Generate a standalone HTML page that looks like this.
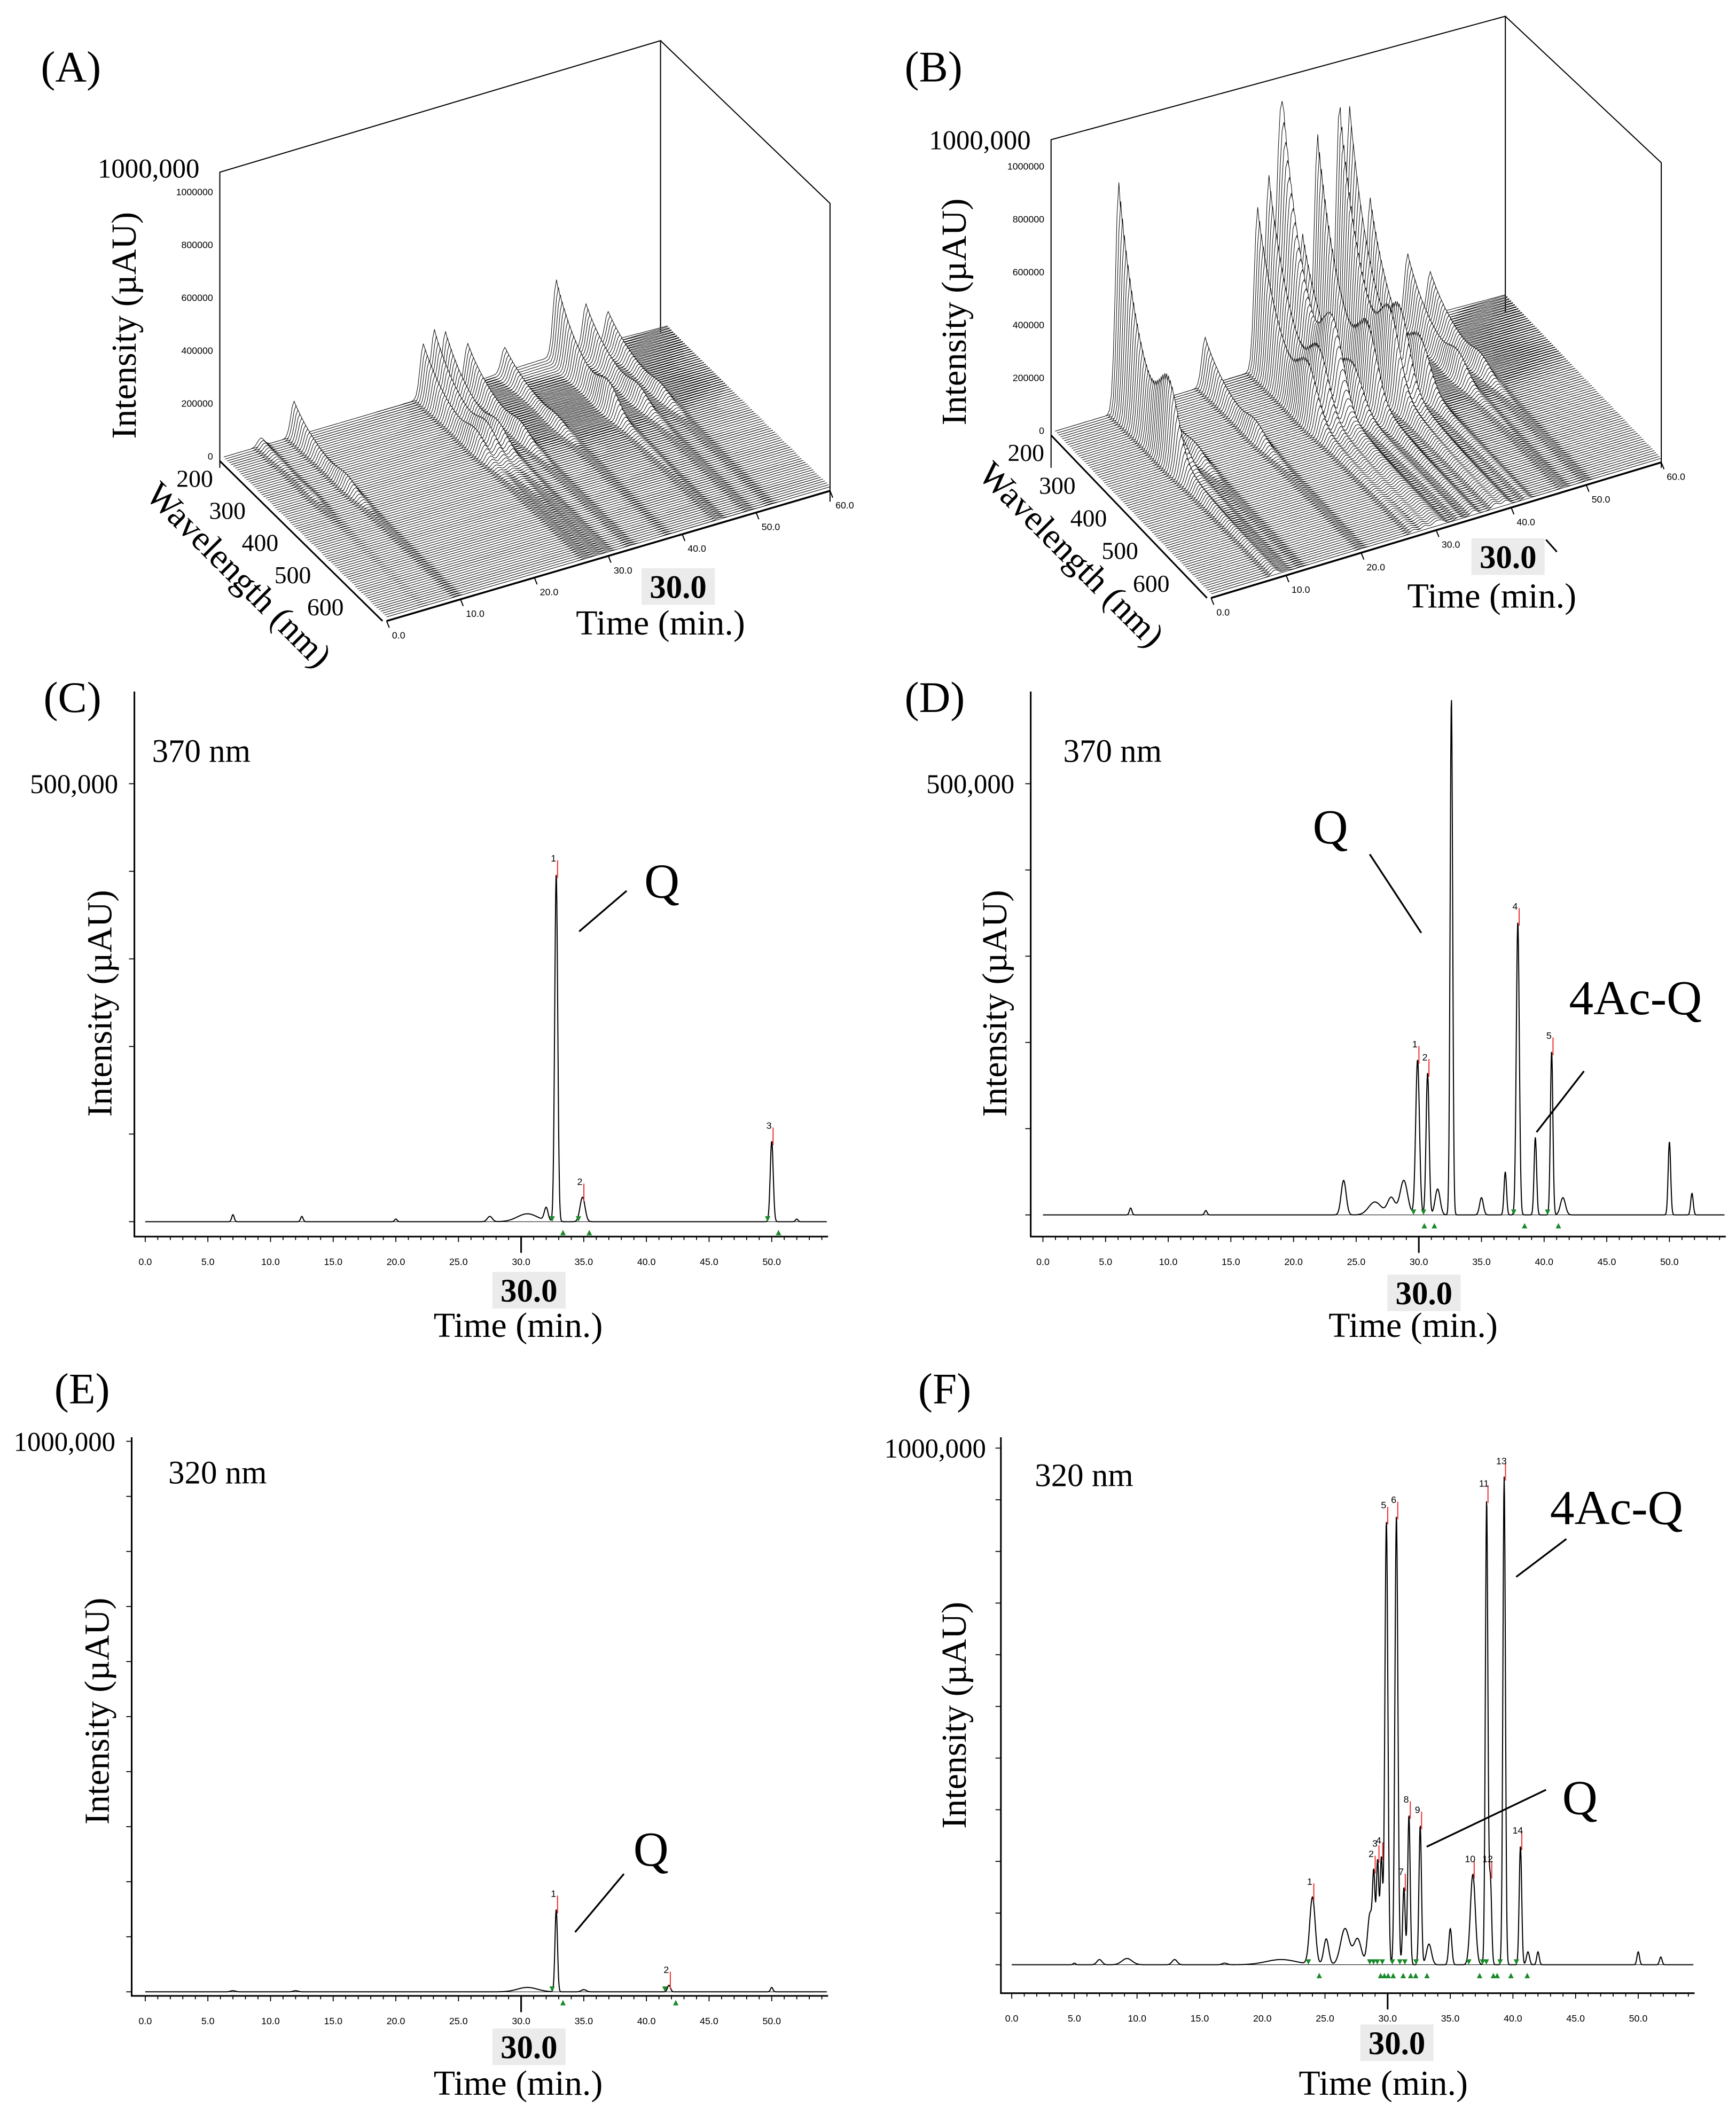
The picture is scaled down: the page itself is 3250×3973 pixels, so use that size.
<!DOCTYPE html>
<html><head><meta charset="utf-8">
<style>html,body{margin:0;padding:0;background:#fff}svg{display:block}
text{font-family:"Liberation Serif",serif;fill:#000}
.s{font-family:"Liberation Sans",sans-serif;font-size:7px}
</style></head><body>
<svg id="fig" xmlns="http://www.w3.org/2000/svg" width="3250" height="3973" viewBox="0 0 1280 1565">
<rect width="1280" height="1565" fill="#fff"/>
<g id="root"></g>
</svg>
<script>
// ---------- data ----------
const cTimes=[7.0,12.5,20.0,27.5,30.5,32.0,32.8,34.9,50.0,52.0];
const cHeights=[8000,6000,3000,6000,9000,15000,397000,28000,92000,3000];
const cWidths=[0.1,0.1,0.1,0.2,0.8,0.15,0.12,0.2,0.12,0.1];
const cLabels=[["1",32.8],["2",34.9],["3",50.0]];
const dTimes=[7.0,13.0,24.0,26.5,27.8,28.8,29.9,30.7,31.5,32.6,35.0,36.9,37.9,39.3,40.6,41.5,50.0,51.8];
const dHeights=[8000,5000,40000,15000,20000,40000,180000,165000,30000,600000,20000,50000,340000,90000,190000,20000,85000,25000];
const dWidths=[0.1,0.1,0.2,0.5,0.3,0.3,0.15,0.12,0.2,0.1,0.15,0.1,0.12,0.1,0.1,0.2,0.1,0.1];
const dLabels=[["1",29.9],["2",30.7],["4",37.9],["5",40.6]];
const eTimes=[7.0,12.0,30.5,32.8,35.0,41.8,50.0];
const eHeights=[2000,2000,8000,150000,4000,12000,8000];
const eWidths=[0.2,0.2,0.8,0.1,0.2,0.12,0.1];
const eLabels=[["1",32.8],["2",41.8]];
const fTimes=[5,7.0,9.2,13.0,17.0,21.5,24.0,25.1,26.6,27.6,28.6,28.9,29.2,29.5,29.9,30.7,31.3,31.7,32.6,33.3,35.0,36.8,37.9,38.2,39.3,40.6,41.2,42.0,50.0,51.8];
const fHeights=[3000,10000,12000,10000,3000,10000,130000,50000,70000,50000,100000,150000,200000,205000,860000,870000,150000,290000,270000,40000,70000,175000,900000,165000,945000,230000,25000,25000,25000,15000];
const fWidths=[0.1,0.2,0.4,0.2,0.2,1.2,0.22,0.2,0.35,0.3,0.2,0.1,0.1,0.1,0.12,0.12,0.1,0.1,0.1,0.2,0.12,0.2,0.1,0.1,0.1,0.1,0.12,0.1,0.1,0.1];
const fLabels=[["1",24.0],["2",28.9],["3",29.2],["4",29.5],["5",29.9],["6",30.7],["7",31.3],["8",31.7],["9",32.6],["10",36.8],["11",37.9],["12",38.2],["13",39.3],["14",40.6]];
const aTimes=[5,9.5,27,28.5,30,33,38,45,49,52];
const aHeights=[30000,130000,200000,240000,220000,150000,90000,280000,160000,110000];
const bTimes=[8.5,10,12,20,27,28.5,29.9,30.7,33,35,37.9,39.3,42,47,50];
const bHeights=[850000,250000,130000,180000,600000,700000,750000,680000,450000,800000,880000,860000,500000,250000,160000];

// ---------- helpers ----------
const NS="http://www.w3.org/2000/svg";
const root=document.getElementById('root');
function el(tag,attrs,parent,txt){const e=document.createElementNS(NS,tag);for(const k in attrs)e.setAttribute(k,attrs[k]);if(txt!==undefined)e.textContent=txt;(parent||root).appendChild(e);return e;}
function T(x,y,s,txt,name,extra){const t=el('text',Object.assign({x:x,y:y,'font-size':s},extra||{}),root,txt);


return t;}
function signal(times,heights,widths,t){let y=0;for(let i=0;i<times.length;i++){const d=(t-times[i])/widths[i];y+=heights[i]*Math.exp(-0.5*d*d);}return y;}

// ---------- chromatogram ----------
function chrom(cfg){
  const g=el('g',{});
  
  
  const xs=t=>cfg.x0+t*9.24;
  const ys=v=>Math.max(cfg.top,cfg.base-v*cfg.kpx);
  const ax=el('path',{d:`M${cfg.ax},${cfg.top} V${cfg.axY} H${cfg.x0+54.5*9.24}`,stroke:'#000','stroke-width':1.2,fill:'none'},g);
  
  
  for(let t=0;t<=54;t++){
    el('line',{x1:xs(t),x2:xs(t),y1:cfg.axY,y2:cfg.axY+(t%5==0?4:2.5),stroke:'#000','stroke-width':0.7},g);
    if(t%5==0){const l=el('text',{x:xs(t),y:cfg.axY+21,'text-anchor':'middle',class:'s'},g,t.toFixed(1));
      
      }
  }
  for(let v=0;v<=cfg.ymax;v+=cfg.ystep){el('line',{x1:cfg.ax-4,x2:cfg.ax,y1:cfg.base-v*cfg.kpx,y2:cfg.base-v*cfg.kpx,stroke:'#000','stroke-width':0.7},g);}
  el('line',{x1:xs(30),x2:xs(30),y1:cfg.axY,y2:cfg.axY+12,stroke:'#000','stroke-width':1.2},g);
  let d='';for(let t=0;t<=54.4;t+=0.03){const v=signal(cfg.t,cfg.h,cfg.w,t);d+=(d?'L':'M')+xs(t).toFixed(2)+','+ys(v).toFixed(2);}
  const p=el('path',{d:d,stroke:'#000','stroke-width':0.8,fill:'none'},g);
  
  
  el('line',{x1:xs(0),x2:xs(54.4),y1:cfg.base,y2:cfg.base,stroke:'#000','stroke-width':0.4},g);
  cfg.labels.forEach(([lab,t])=>{
    const v=signal(cfg.t,cfg.h,cfg.w,t);const x=xs(t),y=ys(v);
    el('line',{x1:x+1,x2:x+1,y1:y-10,y2:y+3,stroke:'#e33','stroke-width':0.8},g);
    const lt=el('text',{x:x-2,y:y-9,'text-anchor':'middle',class:'s','font-size':7},g,lab);
    
    
    el('path',{d:`M${x-5},${cfg.base-4} l2,4 l2,-4z M${x+3},${cfg.base+10} l2,-4 l2,4z`,fill:'#1a8a2a'},g);
  });
}
chrom({name:'chromatogram-c',x0:107,ax:99,top:510,axY:912,base:901,kpx:323/500000,ymax:500000,ystep:100000,t:cTimes,h:cHeights,w:cWidths,labels:cLabels});
chrom({name:'chromatogram-d',x0:769,ax:760,top:510,axY:912,base:896,kpx:318/500000,ymax:500000,ystep:100000,t:dTimes,h:dHeights,w:dWidths,labels:dLabels});
chrom({name:'chromatogram-e',x0:107,ax:97,top:1060,axY:1472,base:1469,kpx:406/1000000,ymax:1000000,ystep:100000,t:eTimes,h:eHeights,w:eWidths,labels:eLabels});
chrom({name:'chromatogram-f',x0:746,ax:738,top:1060,axY:1470,base:1449,kpx:381/1000000,ymax:1000000,ystep:100000,t:fTimes,h:fHeights,w:fWidths,labels:fLabels});

// ---------- 3D surfaces ----------
function surf(cfg){
  const g=el('g',{});
  
  
  const P=(t,wl,v)=>[cfg.ox+t/60*cfg.T[0]+(wl-200)/498*cfg.W[0], cfg.oy+t/60*cfg.T[1]+(wl-200)/498*cfg.W[1]-v*cfg.kz];
  const b=el('path',{d:cfg.box,stroke:'#000','stroke-width':0.8,fill:'none'},g);
  
  
  const widths=cfg.t.map(()=>0.45);
  const N=85;
  for(let i=0;i<=N;i++){
    const wl=200+i*498/N;
    const f=Math.exp(-(wl-200)/75)+0.25*Math.exp(-Math.pow((wl-360)/40,2))+0.02;
    let d='';const pts=[];
    for(let t=0;t<=60;t+=0.25){const v=signal(cfg.t,cfg.h,widths,t)*f+15000*Math.exp(-Math.pow((t-45)/12,2))*f;pts.push(P(t,wl,v));}
    pts.forEach((p,k)=>{d+=(k?'L':'M')+p[0].toFixed(1)+','+p[1].toFixed(1);});
    const e=P(60,wl,0),s=P(0,wl,0);
    el('path',{d:d+`L${e[0]},${e[1]}L${s[0]},${s[1]}Z`,fill:'#fff',stroke:'#000','stroke-width':0.4},g);
  }
  const a0=P(0,698,0),a1=P(60,698,0);
  el('line',{x1:a0[0],y1:a0[1]+3,x2:a1[0],y2:a1[1]+3,stroke:'#000','stroke-width':1.4},g);
  for(let t=0;t<=60;t+=10){const p=P(t,698,0);el('line',{x1:p[0],y1:p[1]+3,x2:p[0]+2,y2:p[1]+8,stroke:'#000','stroke-width':0.8},g);
    const l=el('text',{x:p[0]+4,y:p[1]+16,class:'s','font-size':6.5},g,t.toFixed(1));
    }
  const w0=P(0,200,0),w1=P(0,698,0);
  el('line',{x1:w0[0]-3,y1:w0[1]+3,x2:w1[0]-3,y2:w1[1]+3,stroke:'#000','stroke-width':1.2},g);
  for(let wl=200;wl<=600;wl+=100){const p=P(0,wl,0);
    const l=el('text',{x:p[0]-8,y:p[1]+22,'text-anchor':'end','font-size':18},g,String(wl));
    }
  for(let v=0;v<=1000000;v+=200000){const y=cfg.oy-v*cfg.kz;
    const l=el('text',{x:cfg.ox-8,y:y+2,'text-anchor':'end',class:'s','font-size':6},g,String(v));
    }
}
surf({name:'surface-a',ox:165,oy:337,T:[327,-96],W:[120,118],kz:195/1000000,t:aTimes,h:aHeights,
 box:'M162,345 V127 L487,30 V245 M487,30 L612,150 V370'});
surf({name:'surface-b',ox:778,oy:318,T:[332,-100],W:[115,120],kz:195/1000000,t:bTimes,h:bHeights,
 box:'M775,345 V103 L1110,12 V230 M1110,12 L1225,120 V345'});

// ---------- text ----------
const big=32;
T(30,60,big,'(A)','panel-label-a');T(667,60,big,'(B)','panel-label-b');
T(32,525,big,'(C)','panel-label-c');T(667,525,big,'(D)','panel-label-d');
T(40,1035,big,'(E)','panel-label-e');T(677,1035,big,'(F)','panel-label-f');
T(72,131,20,'1000,000','z-max-label-a');T(685,110,20,'1000,000','z-max-label-b');
T(22,585,20,'500,000','y-max-label-c');T(683,585,20,'500,000','y-max-label-d');
T(10,1070,20,'1000,000','y-max-label-e');T(652,1075,20,'1000,000','y-max-label-f');
[[100,240,'y-axis-title-a'],[712,230,'y-axis-title-b'],[82,740,'y-axis-title-c'],[742,740,'y-axis-title-d'],[80,1262,'y-axis-title-e'],[712,1265,'y-axis-title-f']].forEach(([x,y,n])=>{
  T(x,y,26,'Intensity (µAU)',n,{'text-anchor':'middle',transform:`rotate(-90 ${x} ${y})`});});
T(170,430,26,'Wavelength (nm)','wavelength-title-a',{'text-anchor':'middle',transform:'rotate(45 170 430)'});
T(784,415,26,'Wavelength (nm)','wavelength-title-b',{'text-anchor':'middle',transform:'rotate(45 784 415)'});
function thirty(x,y,n){el('rect',{x:x-27,y:y-22,width:54,height:27,fill:'#ebebeb'});T(x,y,24,'30.0',n,{'text-anchor':'middle','font-weight':'bold'});}
thirty(500,441,'time-highlight-a');thirty(1112,419,'time-highlight-b');thirty(390,960,'time-highlight-c');
thirty(1050,962,'time-highlight-d');thirty(390,1518,'time-highlight-e');thirty(1030,1515,'time-highlight-f');
el('line',{x1:1140,y1:398,x2:1148,y2:407,stroke:'#000','stroke-width':1.2});
[[487,468,'a'],[1100,448,'b'],[382,986,'c'],[1042,986,'d'],[382,1545,'e'],[1020,1545,'f']].forEach(([x,y,n])=>T(x,y,26,'Time (min.)','x-axis-title-'+n,{'text-anchor':'middle'}));
T(112,562,24,'370 nm','wavelength-note-c');T(784,562,24,'370 nm','wavelength-note-d');
T(124,1094,24,'320 nm','wavelength-note-e');T(763,1096,24,'320 nm','wavelength-note-f');
T(475,662,36,'Q','annotation-q-c');el('line',{x1:427,y1:687,x2:462,y2:657,stroke:'#000','stroke-width':1.3});
T(968,622,36,'Q','annotation-q-d');el('line',{x1:1010,y1:630,x2:1048,y2:688,stroke:'#000','stroke-width':1.3});
T(1157,748,36,'4Ac-Q','annotation-4acq-d');el('line',{x1:1133,y1:835,x2:1168,y2:790,stroke:'#000','stroke-width':1.3});
T(467,1376,36,'Q','annotation-q-e');el('line',{x1:424,y1:1425,x2:460,y2:1382,stroke:'#000','stroke-width':1.3});
T(1143,1124,36,'4Ac-Q','annotation-4acq-f');el('line',{x1:1118,y1:1163,x2:1155,y2:1135,stroke:'#000','stroke-width':1.3});
T(1152,1338,36,'Q','annotation-q-f');el('line',{x1:1052,y1:1362,x2:1140,y2:1320,stroke:'#000','stroke-width':1.3});
</script>
</body></html>
